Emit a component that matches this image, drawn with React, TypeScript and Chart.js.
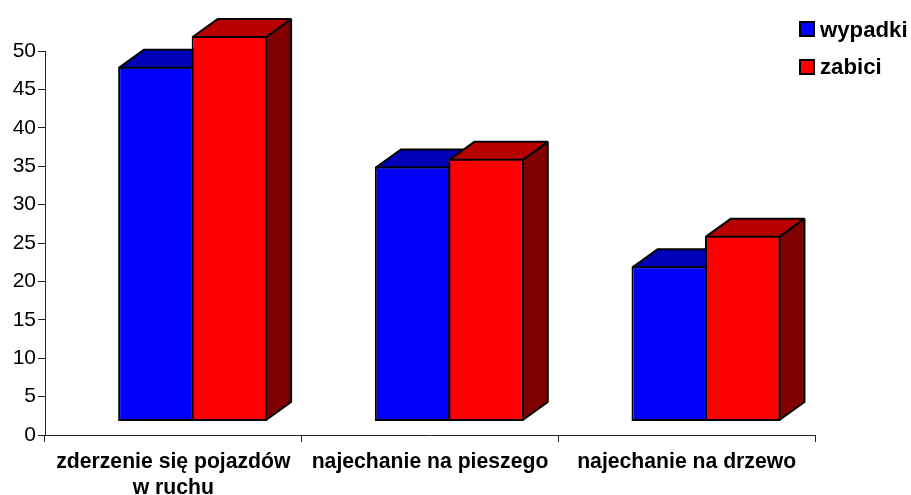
import React, { useEffect, useRef } from "react";
import { Chart, registerables } from "chart.js";

Chart.register(...registerables);

const categories = [["zderzenie się pojazdów", "w ruchu"], "najechanie na pieszego", "najechanie na drzewo"];
const wypadki = [46.2, 33.2, 20.2];
const zabici = [50.2, 34.2, 24.2];
const yTicksMax = 50;
const yTickStep = 5;

const FONT = "'Liberation Sans', Arial, sans-serif";
const DEPTH_X = 25;
const DEPTH_Y = 18;
const SHIFT_X = 19.3;
const SHIFT_Y = -13.5;

const sideColors = ["#000080", "#800000"];
const topColors = ["#0000B8", "#B80000"];

const bars3d = {
  id: "bars3d",
  beforeDatasetsDraw(chart: any) {
    const ctx = chart.ctx;
    chart.data.datasets.forEach((_: any, index: number) => {
      ctx.save();
      ctx.translate(SHIFT_X, SHIFT_Y);
      const meta = chart.getDatasetMeta(index);
      ctx.lineWidth = 2;
      ctx.strokeStyle = "#000";
      ctx.lineJoin = "bevel";
      meta.data.forEach((bar: any) => {
        const p = bar.getProps(["x", "y", "base", "width"], true);
        const l = p.x - p.width / 2 + 1;
        const r = p.x + p.width / 2 - 1;
        const t = p.y + 1;
        const b = p.base - 1;
        ctx.fillStyle = sideColors[index];
        ctx.beginPath();
        ctx.moveTo(r, t);
        ctx.lineTo(r + DEPTH_X, t - DEPTH_Y);
        ctx.lineTo(r + DEPTH_X, b - DEPTH_Y);
        ctx.lineTo(r, b);
        ctx.closePath();
        ctx.fill();
        ctx.stroke();
        ctx.fillStyle = topColors[index];
        ctx.beginPath();
        ctx.moveTo(l, t);
        ctx.lineTo(l + DEPTH_X, t - DEPTH_Y);
        ctx.lineTo(r + DEPTH_X, t - DEPTH_Y);
        ctx.lineTo(r, t);
        ctx.closePath();
        ctx.fill();
        ctx.stroke();
        bar.draw(ctx);
      });
      ctx.restore();
    });
  },
  beforeDatasetDraw() {
    return false;
  },
};

const placeLegend = {
  id: "placeLegend",
  afterLayout(chart: any) {
    const lg = chart.legend;
    if (!lg) return;
    lg.left = 783.5;
    lg.right = 911;
    lg.top = 4;
    lg.bottom = 400;
  },
  afterDraw(chart: any) {
    const ctx = chart.ctx;
    ctx.save();
    chart.data.datasets.forEach((ds: any, i: number) => {
      ctx.fillStyle = ds.backgroundColor;
      ctx.strokeStyle = "#000";
      ctx.lineWidth = 2;
      ctx.fillRect(800, 22 + i * 38, 14, 14);
      ctx.strokeRect(800, 22 + i * 38, 14, 14);
    });
    ctx.restore();
  },
};

export default function App() {
  const ref = useRef<HTMLCanvasElement>(null);
  useEffect(() => {
    const chart = new Chart(ref.current as HTMLCanvasElement, {
      type: "bar",
      data: {
        labels: categories as any,
        datasets: [
          { label: "wypadki", data: wypadki, backgroundColor: "#0000FF", borderColor: "#000", borderWidth: 2, borderSkipped: false, clip: false as any },
          { label: "zabici", data: zabici, backgroundColor: "#FF0000", borderColor: "#000", borderWidth: 2, borderSkipped: false, clip: false as any },
        ],
      },
      options: {
        animation: false,
        responsive: false,
        layout: { padding: { top: 51, right: 96, left: 0, bottom: 0 } },
        datasets: { bar: { categoryPercentage: 0.5727, barPercentage: 1.027 } },
        plugins: {
          title: { display: false },
          tooltip: { enabled: false },
          legend: {
            display: true,
            position: "chartArea" as any,
            align: "start",
            labels: {
              color: "#000",
              font: { family: FONT, size: 22.2, weight: "bold" },
              boxWidth: 10,
              boxHeight: 16,
              padding: 15.4,
              generateLabels(chart: any) {
                return Chart.defaults.plugins.legend.labels.generateLabels(chart).map((it: any) => ({
                  ...it,
                  fillStyle: "rgba(0,0,0,0)",
                  strokeStyle: "rgba(0,0,0,0)",
                  lineWidth: 0,
                }));
              },
            },
          },
        },
        scales: {
          x: {
            grid: { drawOnChartArea: false, drawTicks: true, tickLength: 7, color: "#222", lineWidth: 1 },
            border: { color: "#222", width: 1 },
            ticks: {
              color: "#000",
              maxRotation: 0,
              autoSkip: false,
              padding: 7,
              font: { family: FONT, size: 21.2, weight: "bold", lineHeight: 1.23 },
            },
            afterFit(s: any) {
              s.height = 60;
            },
          },
          y: {
            min: 0,
            max: yTicksMax,
            grid: { drawOnChartArea: false, drawTicks: true, tickLength: 7, color: "#222", lineWidth: 1 },
            border: { color: "#222", width: 1 },
            ticks: {
              stepSize: yTickStep,
              color: "#000",
              padding: 2,
              font: { family: FONT, size: 21 },
            },
            afterFit(s: any) {
              s.width = 45;
            },
          },
        },
      },
      plugins: [bars3d, placeLegend],
    } as any);
    return () => chart.destroy();
  }, []);
  return (
    <div style={{ position: "fixed", left: 0, top: 0, width: 911, height: 495, background: "#fff" }}>
      <canvas ref={ref} width={911} height={495} style={{ display: "block" }} />
    </div>
  );
}
